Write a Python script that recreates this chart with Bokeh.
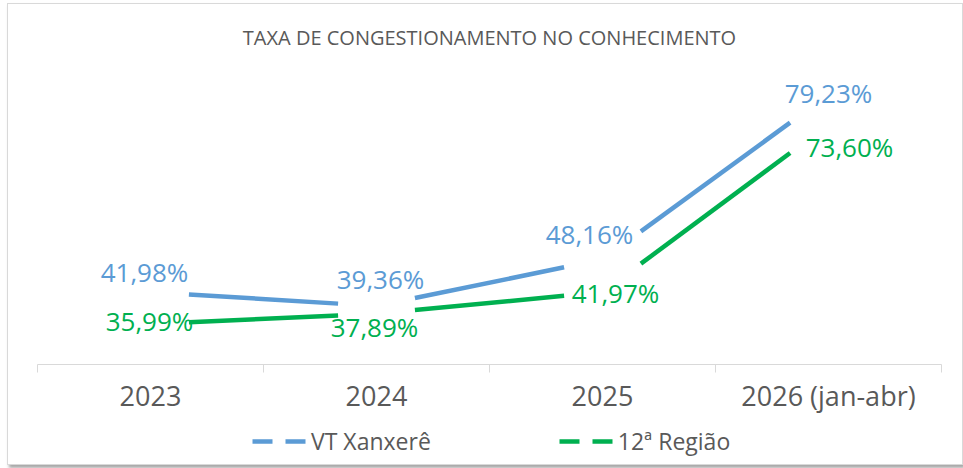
from bokeh.plotting import figure
from bokeh.layouts import column
from bokeh.models import Range1d, FixedTicker, Legend, LegendItem, ColumnDataSource
from bokeh.embed import file_html
from bokeh.resources import INLINE
from bokeh.core.properties import value

# ---- data ----
categories = ["2023", "2024", "2025", "2026 (jan-abr)"]
vt_xanxere = [41.98, 39.36, 48.16, 79.23]
regiao_12 = [35.99, 37.89, 41.97, 73.60]
series_names = ["VT Xanxerê", "12ª Região"]
title_text = "TAXA DE CONGESTIONAMENTO NO CONHECIMENTO"

# ---- styles ----
BLUE = "#5B9BD5"
GREEN = "#00B050"
GREY_TXT = "#595959"
AXIS = "#D9D9D9"
FONT = "Open Sans"
GAP = 0.17  # fraction of segment hidden at each end (label clearance)

# label offsets in screen px (style only)
vt_dx = [-6, 4, -13, 0]
vt_dy = [-20, -27, -25, -2]
rg_dx = [-1, -2, 13, 21]
rg_dy = [-3, 13, 1, 22]

xs = [i + 0.5 for i in range(len(categories))]

def fmt(v):
    return f"{v:.2f}".replace(".", ",") + "%"

p = figure(width=954, height=416, output_backend="svg", toolbar_location=None,
           x_range=Range1d(0, len(categories)), y_range=Range1d(28.32, 85.68),
           min_border_left=29, min_border_right=21, min_border_top=56,
           min_border_bottom=56)

p.title.text = title_text
p.title.align = "center"
p.title.text_font = FONT
p.title.text_font_size = "20px"
p.title.text_font_style = "normal"
p.title.text_color = GREY_TXT
p.title.standoff = 20

p.outline_line_color = None
p.xgrid.visible = False
p.ygrid.visible = False
p.yaxis.visible = False

ax = p.xaxis[0]
ax.ticker = FixedTicker(ticks=xs, minor_ticks=list(range(len(categories) + 1)))
ax.major_label_overrides = {x: c for x, c in zip(xs, categories)}
ax.major_tick_line_color = None
ax.major_tick_out = 0
ax.major_tick_in = 0
ax.minor_tick_line_color = AXIS
ax.minor_tick_out = 8
ax.minor_tick_in = 0
ax.axis_line_color = AXIS
ax.major_label_standoff = 4
ax.major_label_text_font = FONT
ax.major_label_text_font_size = "27px"
ax.major_label_text_color = GREY_TXT

def draw(vals, color, dx, dy):
    x0, y0, x1, y1 = [], [], [], []
    for i in range(len(vals) - 1):
        xa, xb = xs[i], xs[i + 1]
        ya, yb = vals[i], vals[i + 1]
        x0.append(xa + GAP * (xb - xa)); y0.append(ya + GAP * (yb - ya))
        x1.append(xb - GAP * (xb - xa)); y1.append(yb - GAP * (yb - ya))
    p.segment(x0=x0, y0=y0, x1=x1, y1=y1, line_color=color, line_width=4.5, line_cap="butt")
    src = ColumnDataSource(dict(x=xs, y=vals, t=[fmt(v) for v in vals], dx=dx, dy=dy))
    p.text(x="x", y="y", text="t", source=src, x_offset="dx", y_offset="dy",
           text_align="center", text_baseline="middle", text_color=color,
           text_font=value(FONT), text_font_size="26px")

draw(vt_xanxere, BLUE, vt_dx, vt_dy)
draw(regiao_12, GREEN, rg_dx, rg_dy)

# ---- legend strip (series lines lie outside this strip's range; only legend shows) ----
lg = figure(width=954, height=44, output_backend="svg", toolbar_location=None,
            x_range=Range1d(0, len(categories)), y_range=Range1d(0, 1),
            min_border_left=0, min_border_right=0, min_border_top=0, min_border_bottom=0)
lg.axis.visible = False
lg.grid.visible = False
lg.outline_line_color = None

proxy_b = lg.line(x=xs, y=vt_xanxere, line_color=BLUE, line_width=4.5, line_dash="20 13")
proxy_g = lg.line(x=xs, y=regiao_12, line_color=GREEN, line_width=4.5, line_dash="20 13")

legend = Legend(items=[LegendItem(label=series_names[0], renderers=[proxy_b]),
                       LegendItem(label=series_names[1], renderers=[proxy_g])],
                orientation="horizontal", location=(215, 7),
                glyph_width=54, glyph_height=20, label_standoff=5, spacing=128,
                padding=0, margin=0, border_line_color=None, background_fill_alpha=0,
                label_text_font=FONT, label_text_font_size="23px",
                label_text_color=GREY_TXT)
lg.add_layout(legend, "center")

layout = column(p, lg, spacing=0)
layout.styles = {"border": "1px solid #D9D9D9", "box-shadow": "2px 3px 3px rgba(0,0,0,0.35)",
                 "margin-left": "7px", "margin-top": "3px"}

open("out.html", "w").write(file_html(layout, INLINE))
